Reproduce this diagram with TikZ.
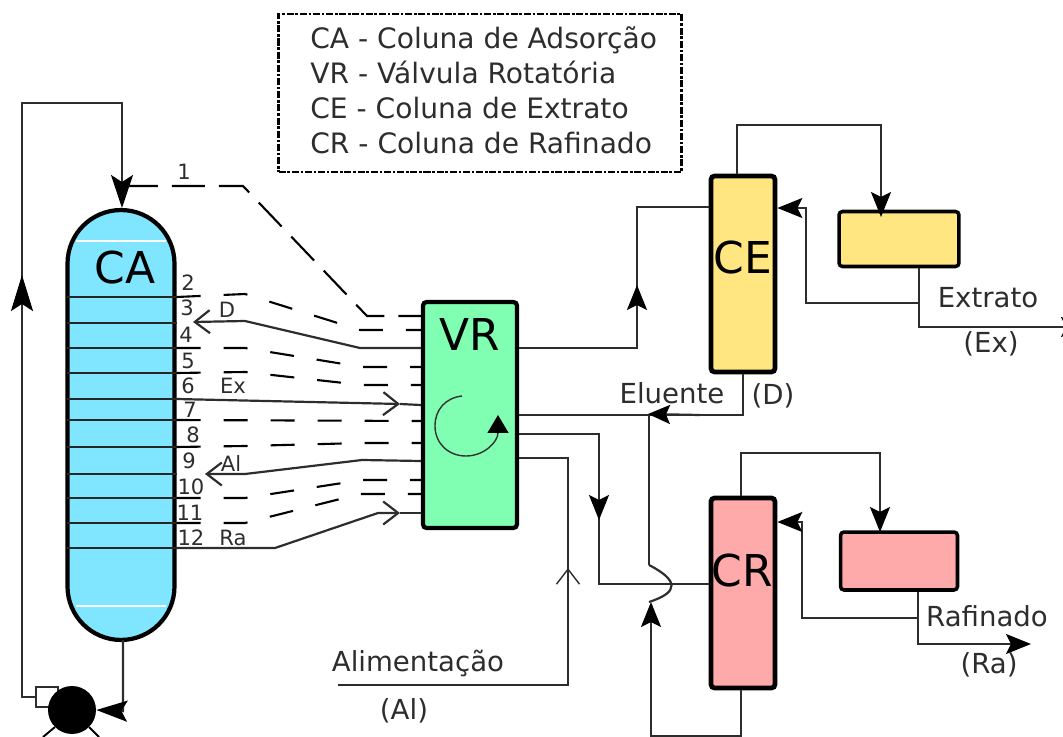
\documentclass[tikz,border=0pt]{standalone}
\usepackage{fontspec}
\setmainfont{DejaVu Sans}
\usetikzlibrary{arrows.meta,calc,positioning}
\definecolor{ColumnBlue}{RGB}{128,229,255}
\definecolor{ValveGreen}{RGB}{128,255,179}
\definecolor{ExtractYellow}{RGB}{255,230,128}
\definecolor{RaffinatePink}{RGB}{255,170,170}
\definecolor{LineGrey}{RGB}{45,45,45}
\tikzset{
    vessel/.style={draw, line width=2.4pt, rounded corners=2pt, inner sep=0pt},
    tank/.style={vessel, line width=2pt, minimum width=2.4cm},
    pipe/.style={LineGrey, line width=1.25pt},
    flow/.style={pipe, -{Stealth[length=.5cm, width=.4cm, inset=.1cm, color=black]}},
    bigflow/.style={pipe, -{Stealth[length=.72cm, width=.44cm, inset=.14cm, color=black]}},
    openflow/.style={pipe, -{Straight Barb[length=.3cm, width=.46cm]}},
    port/.style={black, line width=1.2pt, dash pattern=on .48cm off .46cm},
    tray/.style={black!85, line width=1.1pt, shorten <=1pt},
    biglabel/.style={font=\fontsize{25}{30}\selectfont, inner sep=0pt},
    streamlabel/.style={font=\fontsize{15.7}{18}\selectfont, text=LineGrey, inner sep=0pt},
    portlabel/.style={font=\fontsize{12}{14}\selectfont, text=LineGrey, inner sep=0pt},
}
\begin{document}
\begin{tikzpicture}[x=0.02cm, y=-0.02cm]
    \useasboundingbox (0,0) rectangle (1063,737);
    \clip (0,0) rectangle (1063,737);
    % Legend
    \node[draw, line width=1.3pt, dash pattern=on 4pt off 1pt on 1.5pt off 1pt, minimum width=8.06cm, minimum height=3.16cm] (legend) at (480,93) {};
    \node[anchor=west, inner sep=0pt, align=left, text=LineGrey, font=\fontsize{16}{19.85}\selectfont] (legendtext) at (310,90)
        {CA - Coluna de Adsorção\\VR - Válvula Rotatória\\CE - Coluna de Extrato\\CR - Coluna de Rafinado};
    % Adsorption column
    \node[vessel, fill=ColumnBlue, rounded corners=1.07cm, minimum width=2.14cm, minimum height=8.6cm] (CA) at (121,425) {};
    \draw[white, line width=.8pt] (76,241) -- (166,241);
    \draw[white, line width=.8pt] (76,606) -- (166,606);
    \node[biglabel] (CAlabel) at (125,268) {CA};
    % Trays
    \foreach \tname/\ypos in {t2/297,t3/323,t4/348,t5/373,t6/399,t7/420,t8/447,t9/474,t10/498,t11/523,t12/548}
        \draw[tray] (CA.west |- 0,\ypos) -- (CA.east |- 0,\ypos) coordinate (\tname);
    % Rotary valve
    \node[vessel, fill=ValveGreen, minimum width=1.88cm, minimum height=4.52cm] (VR) at (470,415) {};
    \node[biglabel] (VRlabel) at (470,334) {VR};
    \draw[black!80, line width=.8pt, -{Triangle[length=.36cm, width=.42cm, color=black]}] (462,396) .. controls (445,398) and (435,410) .. (435,426)
        .. controls (435,443) and (448,456) .. (466,456) .. controls (484,456) and (498,442) .. (498,415);
    % Side columns and tanks
    \node[vessel, line width=2.7pt, fill=ExtractYellow, minimum width=1.28cm, minimum height=3.92cm] (CE) at (743,274) {};
    \node[biglabel] (CElabel) at (743,258) {CE};
    \node[tank, fill=ExtractYellow, minimum height=1.1cm] (tankE) at (899,239) {};
    \node[vessel, line width=2.7pt, fill=RaffinatePink, minimum width=1.28cm, minimum height=3.8cm] (CR) at (743,593) {};
    \node[biglabel] (CRlabel) at (742,571) {CR};
    \node[tank, fill=RaffinatePink, minimum width=2.34cm, minimum height=1.16cm] (tankR) at (899,561) {};
    % Pump
    \node[draw=LineGrey, line width=.7pt, fill=white, minimum width=.44cm, minimum height=.4cm, inner sep=0pt] (pumpbox) at (47,697) {};
    \node[circle, fill=black, minimum size=.96cm, inner sep=0pt] (pump) at (72,710) {};
    \draw[black, line width=1.1pt] (pump.south west) -- (43,737);
    \draw[black, line width=1.1pt] (pump.south east) -- (99,737);
    % Recycle loop
    \coordinate (loopA) at (22,695);
    \coordinate (loopB) at (22,275);
    \coordinate (loopC) at (22,103);
    \coordinate (loopD) at (122,103);
    \draw[pipe] (pumpbox.west) -- (pumpbox.west -| loopA) -- (loopC) -- (loopD) -- (122,140);
    \draw[bigflow] (loopA) -- (loopB);
    \draw[bigflow, line width=1.4pt, -{Stealth[length=.66cm, width=.44cm, inset=.14cm, color=black]}] (122,130) -- (122,208);
    \draw[bigflow, line width=1.4pt, -{Stealth[length=.62cm, width=.42cm, inset=.12cm, color=black]}] (123,640) -- (123,711) -- (pump.east);
    % Valve ports, dashed
    \draw[port, dash pattern=on .66cm off .28cm] (125,186) -- (243,186) -- (367,316) -- (VR.west |- 0,316);
    \draw[port] (t2) -- (245,294) -- (360,330) -- (VR.west |- 0,330);
    \draw[port] (t4) -- (245,348) -- (362,367) -- (VR.west |- 0,367);
    \draw[port] (t5) -- (245,372) -- (362,385) -- (VR.west |- 0,385);
    \draw[port] (t7) -- (VR.west |- 0,421);
    \draw[port] (t8) -- (245,446) -- (362,443) -- (VR.west |- 0,443);
    \draw[port] (t10) -- (245,498) -- (362,480) -- (VR.west |- 0,480);
    \draw[port] (t11) -- (245,523) -- (360,494) -- (VR.west |- 0,494);
    % Valve ports, solid
    \draw[openflow] (VR.west |- 0,348) -- (360,348) -- (245,321) -- (193,322);
    \draw[openflow] (t6) -- (400,404);
    \draw[pipe] (400,404) -- (VR.west |- 0,405);
    \draw[openflow] (VR.west |- 0,461) -- (362,460) -- (245,474) -- (205,474);
    \draw[openflow] (t12) -- (275,548) -- (378,513) -- (400,513);
    \draw[pipe] (400,513) -- (VR.west |- 0,513);
    % Port numbers
    \foreach \num/\xpos/\ypos in {1/184/172,2/188/283,3/187/308,4/186/335,5/188/361,6/188/386,7/190/410,8/193/435,9/189/461,10/191/487,11/190/513,12/191/538}
        \node[portlabel] (num\num) at (\xpos,\ypos) {\num};
    \node[portlabel] (labD) at (227,310) {D};
    \node[portlabel] (labEx) at (233,386) {Ex};
    \node[portlabel] (labAl) at (231,463) {Al};
    \node[portlabel] (labRa) at (233,538) {Ra};
    % Extract side
    \draw[pipe] (VR.east |- 0,348) -- (637,348) -- (637,207) -- (CE.west |- 0,207);
    \draw[flow] (637,348) -- (637,285);
    \draw[flow] (CE.north -| 737,0) -- (737,125) -- (881,125) -- (881,217);
    \draw[pipe] (tankE.south -| 919,0) -- (919,327) -- (1063,327);
    \draw[flow] (1040,327) -- (1086,327);
    \draw[flow] (919,303) -- (806,303) -- (806,208) -- (CE.east |- 0,208);
    \draw[pipe] (CE.south) -- (743,415) -- (VR.east |- 0,415);
    \draw[flow, -{Stealth[length=.44cm, width=.38cm, inset=.08cm, color=black]}] (700,415) -- (648,414);
    % Raffinate side
    \draw[pipe] (VR.east |- 0,434) -- (599,434) -- (599,584) -- (CR.west |- 0,584);
    \draw[flow] (599,434) -- (599,520);
    \draw[flow] (CR.north -| 741,0) -- (741,453) -- (880,453) -- (880,532);
    \draw[flow] (tankR.south -| 918,0) -- (918,644) -- (1031,644);
    \draw[flow] (918,618) -- (802,618) -- (802,522) -- (CR.east |- 0,522);
    \draw[flow] (CR.south -| 741,0) -- (741,736) -- (651,736) -- (651,602);
    \draw[pipe] (649,602) .. controls (680,592) and (678,580) .. (649,565);
    \draw[pipe] (649,565) -- (649,415);
    % Feed
    \draw[pipe] (VR.east |- 0,458) -- (568,458) -- (568,685) -- (338,685);
    \draw[openflow, line width=.8pt] (568,685) -- (568,568);
    % Stream labels
    \node[streamlabel] (extrato) at (988,298) {Extrato};
    \node[streamlabel] (ex) at (991,344) {(Ex)};
    \node[streamlabel] (eluente) at (672,393) {Eluente};
    \node[streamlabel] (d) at (773,396) {(D)};
    \node[streamlabel] (rafinado) at (987,616) {Rafinado};
    \node[streamlabel] (ra) at (989,665) {(Ra)};
    \node[streamlabel] (alimentacao) at (418,663) {Alimentação};
    \node[streamlabel] (al) at (404,711) {(Al)};
\end{tikzpicture}
\end{document}
